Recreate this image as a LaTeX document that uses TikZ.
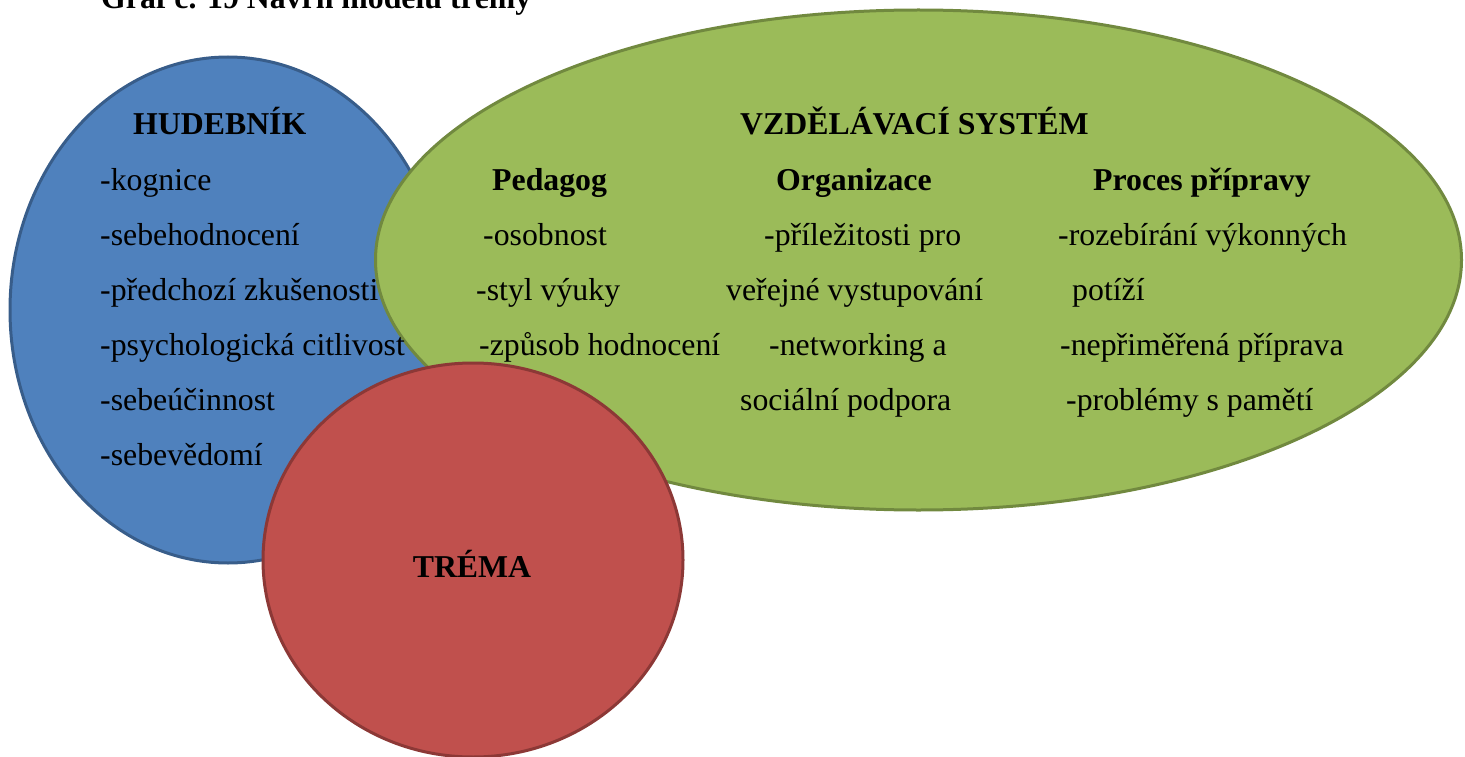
\documentclass[tikz,border=0pt]{standalone}
\usepackage{fontspec}
\setmainfont{Liberation Serif}
\definecolor{bluefill}{HTML}{4F81BD}
\definecolor{blueline}{HTML}{385D8A}
\definecolor{greenfill}{HTML}{9BBB59}
\definecolor{greenline}{HTML}{71893F}
\definecolor{redfill}{HTML}{C0504D}
\definecolor{redline}{HTML}{8C3836}
\begin{document}
\begin{tikzpicture}[x=1pt,y=-1pt,
  txt/.style={anchor=base west,inner sep=0pt,font=\fontsize{31.8}{38}\selectfont},
  hdr/.style={txt,font=\fontsize{31.8}{38}\selectfont\bfseries},
  blob/.style={line width=3pt}]
\useasboundingbox (0,0) rectangle (1465,757);
% title (cut off at top)
\node[hdr] (title) at (101,9) {Graf č. 19 Návrh modelu trémy};
% shapes
\draw[blob,fill=bluefill,draw=blueline] (228,310) ellipse [x radius=218pt,y radius=253pt];
\draw[blob,fill=greenfill,draw=greenline] (918.5,260) ellipse [x radius=543pt,y radius=250pt];
\draw[blob,fill=redfill,draw=redline] (473,560) ellipse [x radius=210pt,y radius=197pt];
% HUDEBNIK
\node[hdr] (hud) at (133,135) {HUDEBNÍK};
\node[txt] (h1) at (100,190) {-kognice};
\node[txt] (h2) at (100,245) {-sebehodnocení};
\node[txt] (h3) at (100,300) {-předchozí zkušenosti};
\node[txt] (h4) at (100,355) {-psychologická citlivost};
\node[txt] (h5) at (100,410) {-sebeúčinnost};
\node[txt] (h6) at (100,465) {-sebevědomí};
% VZDELAVACI SYSTEM
\node[hdr] (vs) at (740,135) {VZDĚLÁVACÍ SYSTÉM};
\node[hdr] (ped) at (492,190) {Pedagog};
\node[hdr] (org) at (776,190) {Organizace};
\node[hdr] (proc) at (1093,190) {Proces přípravy};
\node[txt] (p1) at (483,245) {-osobnost};
\node[txt] (p2) at (476,300) {-styl výuky};
\node[txt] (p3) at (479,355) {-způsob hodnocení};
\node[txt] (o1) at (764,245) {-příležitosti pro};
\node[txt] (o2) at (726,300) {veřejné vystupování};
\node[txt] (o3) at (769,355) {-networking a};
\node[txt] (o4) at (740,410) {sociální podpora};
\node[txt] (r1) at (1058,245) {-rozebírání výkonných};
\node[txt] (r2) at (1072,300) {potíží};
\node[txt] (r3) at (1060,355) {-nepřiměřená příprava};
\node[txt] (r4) at (1066,410) {-problémy s pamětí};
% TREMA
\node[hdr,anchor=base] (trema) at (472,577) {TRÉMA};
\end{tikzpicture}
\end{document}
